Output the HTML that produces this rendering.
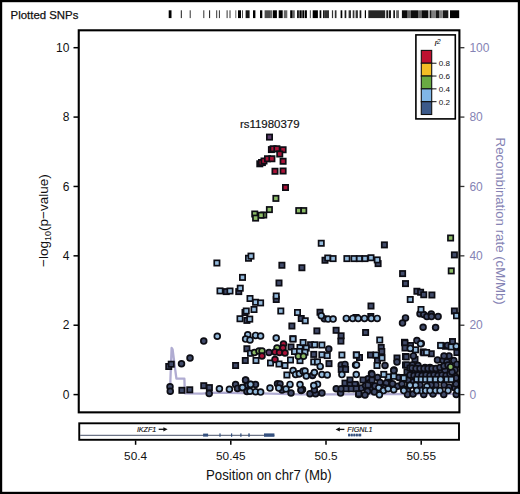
<!DOCTYPE html>
<html><head><meta charset="utf-8"><style>
html,body{margin:0;padding:0;background:#fff;}
body{width:520px;height:494px;overflow:hidden;font-family:"Liberation Sans", sans-serif;}
svg{display:block;}
</style></head><body>
<svg width="520" height="494" viewBox="0 0 520 494" font-family='"Liberation Sans", sans-serif'><rect x="1" y="1" width="518" height="492" fill="none" stroke="#000" stroke-width="2.4"/>
<text x="10.6" y="18.7" font-size="11.4" fill="#111" stroke="#111" stroke-width="0.25">Plotted SNPs</text>
<rect x="168.7" y="10.3" width="2.80" height="7.8" fill="#000" fill-opacity="1.0"/>
<rect x="180.8" y="10.3" width="1.00" height="7.8" fill="#000" fill-opacity="0.9"/>
<rect x="189.7" y="10.3" width="1.00" height="7.8" fill="#000" fill-opacity="0.8"/>
<rect x="203.3" y="10.3" width="1.00" height="7.8" fill="#000" fill-opacity="0.8"/>
<rect x="209.1" y="10.3" width="1.00" height="7.8" fill="#000" fill-opacity="0.9"/>
<rect x="216.2" y="10.3" width="1.00" height="7.8" fill="#000" fill-opacity="0.8"/>
<rect x="218.9" y="10.3" width="1.00" height="7.8" fill="#000" fill-opacity="0.8"/>
<rect x="226.6" y="10.3" width="1.00" height="7.8" fill="#000" fill-opacity="0.8"/>
<rect x="229.5" y="10.3" width="1.00" height="7.8" fill="#000" fill-opacity="0.8"/>
<rect x="235.3" y="10.3" width="1.00" height="7.8" fill="#000" fill-opacity="0.6"/>
<rect x="238" y="10.3" width="3.00" height="7.8" fill="#000" fill-opacity="1.0"/>
<rect x="242.2" y="10.3" width="0.80" height="7.8" fill="#000" fill-opacity="0.9"/>
<rect x="245.6" y="10.3" width="4.00" height="7.8" fill="#000" fill-opacity="0.9"/>
<rect x="253" y="10.3" width="2.40" height="7.8" fill="#000" fill-opacity="1.0"/>
<rect x="260" y="10.3" width="2.30" height="7.8" fill="#000" fill-opacity="1.0"/>
<rect x="264.6" y="10.3" width="5.40" height="7.8" fill="#000" fill-opacity="0.7"/>
<rect x="270" y="10.3" width="2.30" height="7.8" fill="#000" fill-opacity="0.6"/>
<rect x="272.9" y="10.3" width="4.00" height="7.8" fill="#000" fill-opacity="1.0"/>
<rect x="278.7" y="10.3" width="4.00" height="7.8" fill="#000" fill-opacity="1.0"/>
<rect x="283.8" y="10.3" width="3.50" height="7.8" fill="#000" fill-opacity="0.6"/>
<rect x="290.2" y="10.3" width="2.30" height="7.8" fill="#000" fill-opacity="1.0"/>
<rect x="292.5" y="10.3" width="2.30" height="7.8" fill="#000" fill-opacity="0.6"/>
<rect x="297.1" y="10.3" width="1.70" height="7.8" fill="#000" fill-opacity="1.0"/>
<rect x="299.4" y="10.3" width="2.30" height="7.8" fill="#000" fill-opacity="1.0"/>
<rect x="302.3" y="10.3" width="1.70" height="7.8" fill="#000" fill-opacity="1.0"/>
<rect x="304.6" y="10.3" width="2.30" height="7.8" fill="#000" fill-opacity="1.0"/>
<rect x="309.8" y="10.3" width="1.20" height="7.8" fill="#000" fill-opacity="0.6"/>
<rect x="312.7" y="10.3" width="5.20" height="7.8" fill="#000" fill-opacity="1.0"/>
<rect x="319.6" y="10.3" width="1.70" height="7.8" fill="#000" fill-opacity="1.0"/>
<rect x="323" y="10.3" width="1.80" height="7.8" fill="#000" fill-opacity="0.9"/>
<rect x="325" y="10.3" width="4.00" height="7.8" fill="#000" fill-opacity="0.8"/>
<rect x="331.9" y="10.3" width="1.20" height="7.8" fill="#000" fill-opacity="0.8"/>
<rect x="334.8" y="10.3" width="1.70" height="7.8" fill="#000" fill-opacity="0.8"/>
<rect x="340.6" y="10.3" width="1.70" height="7.8" fill="#000" fill-opacity="1.0"/>
<rect x="344.6" y="10.3" width="1.70" height="7.8" fill="#000" fill-opacity="0.9"/>
<rect x="348.6" y="10.3" width="2.40" height="7.8" fill="#000" fill-opacity="0.8"/>
<rect x="352.7" y="10.3" width="1.70" height="7.8" fill="#000" fill-opacity="0.8"/>
<rect x="355.6" y="10.3" width="2.30" height="7.8" fill="#000" fill-opacity="0.8"/>
<rect x="359.6" y="10.3" width="1.70" height="7.8" fill="#000" fill-opacity="0.9"/>
<rect x="364.8" y="10.3" width="1.20" height="7.8" fill="#000" fill-opacity="1.0"/>
<rect x="368.3" y="10.3" width="16.90" height="7.8" fill="#000" fill-opacity="0.85"/>
<rect x="386.3" y="10.3" width="1.70" height="7.8" fill="#000" fill-opacity="0.9"/>
<rect x="388.7" y="10.3" width="2.30" height="7.8" fill="#000" fill-opacity="0.9"/>
<rect x="393.3" y="10.3" width="1.70" height="7.8" fill="#000" fill-opacity="0.9"/>
<rect x="396.1" y="10.3" width="2.90" height="7.8" fill="#000" fill-opacity="0.6"/>
<rect x="401.9" y="10.3" width="5.60" height="7.8" fill="#000" fill-opacity="0.95"/>
<rect x="407.5" y="10.3" width="3.50" height="7.8" fill="#000" fill-opacity="0.6"/>
<rect x="411" y="10.3" width="7.00" height="7.8" fill="#000" fill-opacity="0.95"/>
<rect x="418" y="10.3" width="3.50" height="7.8" fill="#000" fill-opacity="0.6"/>
<rect x="421.5" y="10.3" width="6.90" height="7.8" fill="#000" fill-opacity="0.95"/>
<rect x="429.6" y="10.3" width="1.90" height="7.8" fill="#000" fill-opacity="0.9"/>
<rect x="431.5" y="10.3" width="4.50" height="7.8" fill="#000" fill-opacity="0.5"/>
<rect x="436" y="10.3" width="3.00" height="7.8" fill="#000" fill-opacity="0.9"/>
<rect x="439" y="10.3" width="3.00" height="7.8" fill="#000" fill-opacity="0.5"/>
<rect x="442.5" y="10.3" width="5.80" height="7.8" fill="#000" fill-opacity="0.9"/>
<rect x="450" y="10.3" width="9.20" height="7.8" fill="#000" fill-opacity="1.0"/>
<polyline points="170.2,394.2 170.4,380 171.6,348.0 172.6,349.5 176.4,378.7 184.4,378.7 184.8,393.3 202,393.6 215,392.6 240,393 260,393.4 300,394.4 340,394.4 380,394.0 420,394.2 459,393.8" fill="none" stroke="#b0acd2" stroke-width="2.3" stroke-linejoin="round"/>
<defs><clipPath id="pc"><rect x="79" y="30.5" width="380" height="381.5"/></clipPath></defs><g clip-path="url(#pc)">
<rect x="279.25" y="262.60" width="5.3" height="5.3" fill="#414b6a" stroke="#0d0d14" stroke-width="1.7"/>
<rect x="276.35" y="280.35" width="5.3" height="5.3" fill="#414b6a" stroke="#0d0d14" stroke-width="1.7"/>
<rect x="322.35" y="257.60" width="5.3" height="5.3" fill="#414b6a" stroke="#0d0d14" stroke-width="1.7"/>
<rect x="299.25" y="265.10" width="5.3" height="5.3" fill="#414b6a" stroke="#0d0d14" stroke-width="1.7"/>
<rect x="381.75" y="242.25" width="5.3" height="5.3" fill="#414b6a" stroke="#0d0d14" stroke-width="1.7"/>
<rect x="375.45" y="260.95" width="5.3" height="5.3" fill="#414b6a" stroke="#0d0d14" stroke-width="1.7"/>
<rect x="399.95" y="270.95" width="5.3" height="5.3" fill="#414b6a" stroke="#0d0d14" stroke-width="1.7"/>
<rect x="402.85" y="280.95" width="5.3" height="5.3" fill="#414b6a" stroke="#0d0d14" stroke-width="1.7"/>
<rect x="451.75" y="252.25" width="5.3" height="5.3" fill="#414b6a" stroke="#0d0d14" stroke-width="1.7"/>
<rect x="223.60" y="288.95" width="5.3" height="5.3" fill="#414b6a" stroke="#0d0d14" stroke-width="1.7"/>
<rect x="236.10" y="288.95" width="5.3" height="5.3" fill="#414b6a" stroke="#0d0d14" stroke-width="1.7"/>
<rect x="273.60" y="296.85" width="5.3" height="5.3" fill="#414b6a" stroke="#0d0d14" stroke-width="1.7"/>
<rect x="242.35" y="309.85" width="5.3" height="5.3" fill="#414b6a" stroke="#0d0d14" stroke-width="1.7"/>
<rect x="244.25" y="317.75" width="5.3" height="5.3" fill="#414b6a" stroke="#0d0d14" stroke-width="1.7"/>
<circle cx="203.75" cy="341.10" r="2.9" fill="#414b6a" stroke="#0d0d14" stroke-width="1.7"/>
<rect x="298.60" y="315.85" width="5.3" height="5.3" fill="#414b6a" stroke="#0d0d14" stroke-width="1.7"/>
<rect x="317.35" y="309.60" width="5.3" height="5.3" fill="#414b6a" stroke="#0d0d14" stroke-width="1.7"/>
<rect x="289.25" y="323.35" width="5.3" height="5.3" fill="#414b6a" stroke="#0d0d14" stroke-width="1.7"/>
<rect x="314.25" y="328.25" width="5.3" height="5.3" fill="#414b6a" stroke="#0d0d14" stroke-width="1.7"/>
<rect x="333.45" y="327.65" width="5.3" height="5.3" fill="#414b6a" stroke="#0d0d14" stroke-width="1.7"/>
<rect x="338.45" y="333.15" width="5.3" height="5.3" fill="#414b6a" stroke="#0d0d14" stroke-width="1.7"/>
<rect x="338.25" y="338.45" width="5.3" height="5.3" fill="#414b6a" stroke="#0d0d14" stroke-width="1.7"/>
<circle cx="324.40" cy="318.75" r="2.9" fill="#414b6a" stroke="#0d0d14" stroke-width="1.7"/>
<rect x="368.35" y="303.35" width="5.3" height="5.3" fill="#414b6a" stroke="#0d0d14" stroke-width="1.7"/>
<rect x="353.35" y="314.85" width="5.3" height="5.3" fill="#414b6a" stroke="#0d0d14" stroke-width="1.7"/>
<rect x="368.15" y="313.85" width="5.3" height="5.3" fill="#414b6a" stroke="#0d0d14" stroke-width="1.7"/>
<rect x="362.95" y="329.85" width="5.3" height="5.3" fill="#414b6a" stroke="#0d0d14" stroke-width="1.7"/>
<rect x="401.85" y="339.65" width="5.3" height="5.3" fill="#414b6a" stroke="#0d0d14" stroke-width="1.7"/>
<circle cx="405.50" cy="317.90" r="2.9" fill="#414b6a" stroke="#0d0d14" stroke-width="1.7"/>
<circle cx="402.50" cy="323.10" r="2.9" fill="#414b6a" stroke="#0d0d14" stroke-width="1.7"/>
<rect x="414.25" y="288.60" width="5.3" height="5.3" fill="#414b6a" stroke="#0d0d14" stroke-width="1.7"/>
<rect x="417.95" y="289.60" width="5.3" height="5.3" fill="#414b6a" stroke="#0d0d14" stroke-width="1.7"/>
<rect x="421.10" y="292.10" width="5.3" height="5.3" fill="#414b6a" stroke="#0d0d14" stroke-width="1.7"/>
<rect x="429.25" y="292.35" width="5.3" height="5.3" fill="#414b6a" stroke="#0d0d14" stroke-width="1.7"/>
<rect x="451.75" y="308.35" width="5.3" height="5.3" fill="#414b6a" stroke="#0d0d14" stroke-width="1.7"/>
<circle cx="420.00" cy="313.75" r="2.9" fill="#414b6a" stroke="#0d0d14" stroke-width="1.7"/>
<circle cx="423.75" cy="314.50" r="2.9" fill="#414b6a" stroke="#0d0d14" stroke-width="1.7"/>
<circle cx="426.90" cy="316.60" r="2.9" fill="#414b6a" stroke="#0d0d14" stroke-width="1.7"/>
<circle cx="431.25" cy="314.10" r="2.9" fill="#414b6a" stroke="#0d0d14" stroke-width="1.7"/>
<circle cx="431.50" cy="316.60" r="2.9" fill="#414b6a" stroke="#0d0d14" stroke-width="1.7"/>
<circle cx="438.10" cy="316.60" r="2.9" fill="#414b6a" stroke="#0d0d14" stroke-width="1.7"/>
<circle cx="423.10" cy="327.25" r="2.9" fill="#414b6a" stroke="#0d0d14" stroke-width="1.7"/>
<circle cx="435.60" cy="327.50" r="2.9" fill="#414b6a" stroke="#0d0d14" stroke-width="1.7"/>
<circle cx="416.90" cy="340.60" r="2.9" fill="#414b6a" stroke="#0d0d14" stroke-width="1.7"/>
<circle cx="190.00" cy="358.10" r="2.9" fill="#414b6a" stroke="#0d0d14" stroke-width="1.7"/>
<circle cx="181.50" cy="363.75" r="2.9" fill="#414b6a" stroke="#0d0d14" stroke-width="1.7"/>
<circle cx="170.00" cy="386.70" r="2.9" fill="#414b6a" stroke="#0d0d14" stroke-width="1.7"/>
<circle cx="170.25" cy="391.25" r="2.9" fill="#414b6a" stroke="#0d0d14" stroke-width="1.7"/>
<circle cx="209.20" cy="393.40" r="2.9" fill="#414b6a" stroke="#0d0d14" stroke-width="1.7"/>
<rect x="166.10" y="363.85" width="5.3" height="5.3" fill="#414b6a" stroke="#0d0d14" stroke-width="1.7"/>
<rect x="168.60" y="361.55" width="5.3" height="5.3" fill="#414b6a" stroke="#0d0d14" stroke-width="1.7"/>
<rect x="179.25" y="387.65" width="5.3" height="5.3" fill="#414b6a" stroke="#0d0d14" stroke-width="1.7"/>
<rect x="187.10" y="387.15" width="5.3" height="5.3" fill="#414b6a" stroke="#0d0d14" stroke-width="1.7"/>
<rect x="201.10" y="383.05" width="5.3" height="5.3" fill="#414b6a" stroke="#0d0d14" stroke-width="1.7"/>
<rect x="206.75" y="384.95" width="5.3" height="5.3" fill="#414b6a" stroke="#0d0d14" stroke-width="1.7"/>
<rect x="244.25" y="346.10" width="5.3" height="5.3" fill="#414b6a" stroke="#0d0d14" stroke-width="1.7"/>
<rect x="242.65" y="357.85" width="5.3" height="5.3" fill="#414b6a" stroke="#0d0d14" stroke-width="1.7"/>
<rect x="232.95" y="362.85" width="5.3" height="5.3" fill="#414b6a" stroke="#0d0d14" stroke-width="1.7"/>
<circle cx="235.60" cy="384.60" r="2.9" fill="#414b6a" stroke="#0d0d14" stroke-width="1.7"/>
<circle cx="237.50" cy="388.40" r="2.9" fill="#414b6a" stroke="#0d0d14" stroke-width="1.7"/>
<circle cx="245.60" cy="380.25" r="2.9" fill="#414b6a" stroke="#0d0d14" stroke-width="1.7"/>
<circle cx="247.50" cy="385.25" r="2.9" fill="#414b6a" stroke="#0d0d14" stroke-width="1.7"/>
<circle cx="255.50" cy="384.50" r="2.9" fill="#414b6a" stroke="#0d0d14" stroke-width="1.7"/>
<circle cx="246.90" cy="391.50" r="2.9" fill="#414b6a" stroke="#0d0d14" stroke-width="1.7"/>
<rect x="288.35" y="344.35" width="5.3" height="5.3" fill="#414b6a" stroke="#0d0d14" stroke-width="1.7"/>
<rect x="307.95" y="342.10" width="5.3" height="5.3" fill="#414b6a" stroke="#0d0d14" stroke-width="1.7"/>
<rect x="311.10" y="351.75" width="5.3" height="5.3" fill="#414b6a" stroke="#0d0d14" stroke-width="1.7"/>
<rect x="326.35" y="360.95" width="5.3" height="5.3" fill="#414b6a" stroke="#0d0d14" stroke-width="1.7"/>
<circle cx="328.75" cy="349.00" r="2.9" fill="#414b6a" stroke="#0d0d14" stroke-width="1.7"/>
<circle cx="277.50" cy="383.75" r="2.9" fill="#414b6a" stroke="#0d0d14" stroke-width="1.7"/>
<circle cx="302.50" cy="389.40" r="2.9" fill="#414b6a" stroke="#0d0d14" stroke-width="1.7"/>
<circle cx="298.75" cy="373.75" r="2.9" fill="#414b6a" stroke="#0d0d14" stroke-width="1.7"/>
<circle cx="312.50" cy="375.40" r="2.9" fill="#414b6a" stroke="#0d0d14" stroke-width="1.7"/>
<circle cx="301.25" cy="390.60" r="2.9" fill="#414b6a" stroke="#0d0d14" stroke-width="1.7"/>
<circle cx="310.00" cy="393.75" r="2.9" fill="#414b6a" stroke="#0d0d14" stroke-width="1.7"/>
<circle cx="315.60" cy="393.75" r="2.9" fill="#414b6a" stroke="#0d0d14" stroke-width="1.7"/>
<circle cx="321.90" cy="393.10" r="2.9" fill="#414b6a" stroke="#0d0d14" stroke-width="1.7"/>
<circle cx="314.40" cy="390.00" r="2.9" fill="#414b6a" stroke="#0d0d14" stroke-width="1.7"/>
<circle cx="245.60" cy="380.00" r="2.9" fill="#414b6a" stroke="#0d0d14" stroke-width="1.7"/>
<circle cx="336.25" cy="388.75" r="2.9" fill="#414b6a" stroke="#0d0d14" stroke-width="1.7"/>
<circle cx="340.60" cy="393.10" r="2.9" fill="#414b6a" stroke="#0d0d14" stroke-width="1.7"/>
<circle cx="341.25" cy="388.75" r="2.9" fill="#414b6a" stroke="#0d0d14" stroke-width="1.7"/>
<circle cx="341.25" cy="365.00" r="2.9" fill="#414b6a" stroke="#0d0d14" stroke-width="1.7"/>
<circle cx="345.00" cy="364.40" r="2.9" fill="#414b6a" stroke="#0d0d14" stroke-width="1.7"/>
<circle cx="343.75" cy="368.75" r="2.9" fill="#414b6a" stroke="#0d0d14" stroke-width="1.7"/>
<circle cx="358.75" cy="394.40" r="2.9" fill="#414b6a" stroke="#0d0d14" stroke-width="1.7"/>
<circle cx="361.25" cy="388.10" r="2.9" fill="#414b6a" stroke="#0d0d14" stroke-width="1.7"/>
<circle cx="356.00" cy="385.00" r="2.9" fill="#414b6a" stroke="#0d0d14" stroke-width="1.7"/>
<rect x="338.60" y="366.75" width="5.3" height="5.3" fill="#414b6a" stroke="#0d0d14" stroke-width="1.7"/>
<rect x="342.95" y="366.75" width="5.3" height="5.3" fill="#414b6a" stroke="#0d0d14" stroke-width="1.7"/>
<rect x="342.35" y="380.45" width="5.3" height="5.3" fill="#414b6a" stroke="#0d0d14" stroke-width="1.7"/>
<rect x="347.35" y="377.35" width="5.3" height="5.3" fill="#414b6a" stroke="#0d0d14" stroke-width="1.7"/>
<rect x="347.35" y="382.35" width="5.3" height="5.3" fill="#414b6a" stroke="#0d0d14" stroke-width="1.7"/>
<rect x="352.35" y="381.75" width="5.3" height="5.3" fill="#414b6a" stroke="#0d0d14" stroke-width="1.7"/>
<rect x="343.60" y="386.10" width="5.3" height="5.3" fill="#414b6a" stroke="#0d0d14" stroke-width="1.7"/>
<rect x="348.60" y="386.10" width="5.3" height="5.3" fill="#414b6a" stroke="#0d0d14" stroke-width="1.7"/>
<rect x="353.60" y="386.10" width="5.3" height="5.3" fill="#414b6a" stroke="#0d0d14" stroke-width="1.7"/>
<rect x="356.10" y="391.10" width="5.3" height="5.3" fill="#414b6a" stroke="#0d0d14" stroke-width="1.7"/>
<rect x="378.55" y="344.85" width="5.3" height="5.3" fill="#414b6a" stroke="#0d0d14" stroke-width="1.7"/>
<rect x="379.15" y="348.85" width="5.3" height="5.3" fill="#414b6a" stroke="#0d0d14" stroke-width="1.7"/>
<rect x="367.85" y="352.35" width="5.3" height="5.3" fill="#414b6a" stroke="#0d0d14" stroke-width="1.7"/>
<rect x="374.85" y="357.85" width="5.3" height="5.3" fill="#414b6a" stroke="#0d0d14" stroke-width="1.7"/>
<rect x="356.85" y="354.85" width="5.3" height="5.3" fill="#414b6a" stroke="#0d0d14" stroke-width="1.7"/>
<rect x="394.35" y="355.35" width="5.3" height="5.3" fill="#414b6a" stroke="#0d0d14" stroke-width="1.7"/>
<rect x="402.35" y="340.35" width="5.3" height="5.3" fill="#414b6a" stroke="#0d0d14" stroke-width="1.7"/>
<rect x="402.35" y="345.35" width="5.3" height="5.3" fill="#414b6a" stroke="#0d0d14" stroke-width="1.7"/>
<rect x="402.85" y="353.85" width="5.3" height="5.3" fill="#414b6a" stroke="#0d0d14" stroke-width="1.7"/>
<rect x="402.85" y="362.35" width="5.3" height="5.3" fill="#414b6a" stroke="#0d0d14" stroke-width="1.7"/>
<circle cx="385.00" cy="365.50" r="2.9" fill="#414b6a" stroke="#0d0d14" stroke-width="1.7"/>
<circle cx="397.00" cy="362.00" r="2.9" fill="#414b6a" stroke="#0d0d14" stroke-width="1.7"/>
<circle cx="394.00" cy="370.00" r="2.9" fill="#414b6a" stroke="#0d0d14" stroke-width="1.7"/>
<circle cx="371.50" cy="373.50" r="2.9" fill="#414b6a" stroke="#0d0d14" stroke-width="1.7"/>
<circle cx="365.60" cy="385.60" r="2.9" fill="#414b6a" stroke="#0d0d14" stroke-width="1.7"/>
<circle cx="370.00" cy="388.75" r="2.9" fill="#414b6a" stroke="#0d0d14" stroke-width="1.7"/>
<circle cx="374.40" cy="391.90" r="2.9" fill="#414b6a" stroke="#0d0d14" stroke-width="1.7"/>
<circle cx="367.50" cy="391.25" r="2.9" fill="#414b6a" stroke="#0d0d14" stroke-width="1.7"/>
<circle cx="371.90" cy="374.40" r="2.9" fill="#414b6a" stroke="#0d0d14" stroke-width="1.7"/>
<circle cx="368.10" cy="378.75" r="2.9" fill="#414b6a" stroke="#0d0d14" stroke-width="1.7"/>
<circle cx="370.00" cy="382.50" r="2.9" fill="#414b6a" stroke="#0d0d14" stroke-width="1.7"/>
<circle cx="393.75" cy="370.60" r="2.9" fill="#414b6a" stroke="#0d0d14" stroke-width="1.7"/>
<circle cx="398.75" cy="377.50" r="2.9" fill="#414b6a" stroke="#0d0d14" stroke-width="1.7"/>
<circle cx="397.50" cy="386.25" r="2.9" fill="#414b6a" stroke="#0d0d14" stroke-width="1.7"/>
<circle cx="407.50" cy="390.00" r="2.9" fill="#414b6a" stroke="#0d0d14" stroke-width="1.7"/>
<circle cx="377.50" cy="377.50" r="2.9" fill="#414b6a" stroke="#0d0d14" stroke-width="1.7"/>
<circle cx="380.00" cy="382.50" r="2.9" fill="#414b6a" stroke="#0d0d14" stroke-width="1.7"/>
<circle cx="386.25" cy="383.10" r="2.9" fill="#414b6a" stroke="#0d0d14" stroke-width="1.7"/>
<circle cx="392.50" cy="383.75" r="2.9" fill="#414b6a" stroke="#0d0d14" stroke-width="1.7"/>
<circle cx="413.75" cy="371.25" r="2.9" fill="#414b6a" stroke="#0d0d14" stroke-width="1.7"/>
<circle cx="375.00" cy="386.00" r="2.9" fill="#414b6a" stroke="#0d0d14" stroke-width="1.7"/>
<circle cx="385.00" cy="388.00" r="2.9" fill="#414b6a" stroke="#0d0d14" stroke-width="1.7"/>
<circle cx="402.00" cy="384.00" r="2.9" fill="#414b6a" stroke="#0d0d14" stroke-width="1.7"/>
<circle cx="389.00" cy="378.00" r="2.9" fill="#414b6a" stroke="#0d0d14" stroke-width="1.7"/>
<circle cx="365.00" cy="395.00" r="2.9" fill="#414b6a" stroke="#0d0d14" stroke-width="1.7"/>
<rect x="403.60" y="354.25" width="5.3" height="5.3" fill="#414b6a" stroke="#0d0d14" stroke-width="1.7"/>
<rect x="412.35" y="356.75" width="5.3" height="5.3" fill="#414b6a" stroke="#0d0d14" stroke-width="1.7"/>
<rect x="404.25" y="362.35" width="5.3" height="5.3" fill="#414b6a" stroke="#0d0d14" stroke-width="1.7"/>
<rect x="400.45" y="374.85" width="5.3" height="5.3" fill="#414b6a" stroke="#0d0d14" stroke-width="1.7"/>
<rect x="420.45" y="349.25" width="5.3" height="5.3" fill="#414b6a" stroke="#0d0d14" stroke-width="1.7"/>
<rect x="428.60" y="351.10" width="5.3" height="5.3" fill="#414b6a" stroke="#0d0d14" stroke-width="1.7"/>
<rect x="442.95" y="343.60" width="5.3" height="5.3" fill="#414b6a" stroke="#0d0d14" stroke-width="1.7"/>
<rect x="449.85" y="339.25" width="5.3" height="5.3" fill="#414b6a" stroke="#0d0d14" stroke-width="1.7"/>
<rect x="454.25" y="349.85" width="5.3" height="5.3" fill="#414b6a" stroke="#0d0d14" stroke-width="1.7"/>
<rect x="404.35" y="369.35" width="5.3" height="5.3" fill="#414b6a" stroke="#0d0d14" stroke-width="1.7"/>
<rect x="407.35" y="365.35" width="5.3" height="5.3" fill="#414b6a" stroke="#0d0d14" stroke-width="1.7"/>
<rect x="407.85" y="342.85" width="5.3" height="5.3" fill="#414b6a" stroke="#0d0d14" stroke-width="1.7"/>
<rect x="421.15" y="350.15" width="5.3" height="5.3" fill="#414b6a" stroke="#0d0d14" stroke-width="1.7"/>
<circle cx="413.40" cy="355.90" r="2.9" fill="#414b6a" stroke="#0d0d14" stroke-width="1.7"/>
<rect x="449.85" y="338.95" width="5.3" height="5.3" fill="#414b6a" stroke="#0d0d14" stroke-width="1.7"/>
<circle cx="437.50" cy="360.00" r="2.9" fill="#414b6a" stroke="#0d0d14" stroke-width="1.7"/>
<circle cx="443.10" cy="360.60" r="2.9" fill="#414b6a" stroke="#0d0d14" stroke-width="1.7"/>
<circle cx="446.90" cy="361.90" r="2.9" fill="#414b6a" stroke="#0d0d14" stroke-width="1.7"/>
<circle cx="453.75" cy="360.60" r="2.9" fill="#414b6a" stroke="#0d0d14" stroke-width="1.7"/>
<circle cx="456.90" cy="364.40" r="2.9" fill="#414b6a" stroke="#0d0d14" stroke-width="1.7"/>
<circle cx="447.50" cy="345.40" r="2.9" fill="#414b6a" stroke="#0d0d14" stroke-width="1.7"/>
<circle cx="415.00" cy="370.60" r="2.9" fill="#414b6a" stroke="#0d0d14" stroke-width="1.7"/>
<circle cx="419.40" cy="370.60" r="2.9" fill="#414b6a" stroke="#0d0d14" stroke-width="1.7"/>
<circle cx="424.40" cy="370.60" r="2.9" fill="#414b6a" stroke="#0d0d14" stroke-width="1.7"/>
<circle cx="428.75" cy="370.60" r="2.9" fill="#414b6a" stroke="#0d0d14" stroke-width="1.7"/>
<circle cx="433.10" cy="370.60" r="2.9" fill="#414b6a" stroke="#0d0d14" stroke-width="1.7"/>
<circle cx="437.50" cy="370.60" r="2.9" fill="#414b6a" stroke="#0d0d14" stroke-width="1.7"/>
<circle cx="441.25" cy="370.60" r="2.9" fill="#414b6a" stroke="#0d0d14" stroke-width="1.7"/>
<circle cx="445.00" cy="370.60" r="2.9" fill="#414b6a" stroke="#0d0d14" stroke-width="1.7"/>
<circle cx="412.50" cy="365.00" r="2.9" fill="#414b6a" stroke="#0d0d14" stroke-width="1.7"/>
<circle cx="418.00" cy="365.50" r="2.9" fill="#414b6a" stroke="#0d0d14" stroke-width="1.7"/>
<circle cx="430.00" cy="367.50" r="2.9" fill="#414b6a" stroke="#0d0d14" stroke-width="1.7"/>
<circle cx="425.00" cy="367.50" r="2.9" fill="#414b6a" stroke="#0d0d14" stroke-width="1.7"/>
<circle cx="407.50" cy="394.40" r="2.9" fill="#414b6a" stroke="#0d0d14" stroke-width="1.7"/>
<circle cx="423.75" cy="394.40" r="2.9" fill="#414b6a" stroke="#0d0d14" stroke-width="1.7"/>
<circle cx="443.75" cy="394.40" r="2.9" fill="#414b6a" stroke="#0d0d14" stroke-width="1.7"/>
<circle cx="456.25" cy="394.40" r="2.9" fill="#414b6a" stroke="#0d0d14" stroke-width="1.7"/>
<circle cx="455.00" cy="370.00" r="2.9" fill="#414b6a" stroke="#0d0d14" stroke-width="1.7"/>
<circle cx="455.00" cy="376.00" r="2.9" fill="#414b6a" stroke="#0d0d14" stroke-width="1.7"/>
<circle cx="455.00" cy="382.00" r="2.9" fill="#414b6a" stroke="#0d0d14" stroke-width="1.7"/>
<circle cx="455.00" cy="388.00" r="2.9" fill="#414b6a" stroke="#0d0d14" stroke-width="1.7"/>
<circle cx="449.00" cy="387.00" r="2.9" fill="#414b6a" stroke="#0d0d14" stroke-width="1.7"/>
<circle cx="444.00" cy="385.00" r="2.9" fill="#414b6a" stroke="#0d0d14" stroke-width="1.7"/>
<circle cx="436.00" cy="385.00" r="2.9" fill="#414b6a" stroke="#0d0d14" stroke-width="1.7"/>
<circle cx="431.00" cy="385.00" r="2.9" fill="#414b6a" stroke="#0d0d14" stroke-width="1.7"/>
<circle cx="420.00" cy="385.00" r="2.9" fill="#414b6a" stroke="#0d0d14" stroke-width="1.7"/>
<circle cx="412.00" cy="382.00" r="2.9" fill="#414b6a" stroke="#0d0d14" stroke-width="1.7"/>
<circle cx="408.00" cy="380.00" r="2.9" fill="#414b6a" stroke="#0d0d14" stroke-width="1.7"/>
<circle cx="433.00" cy="394.00" r="2.9" fill="#414b6a" stroke="#0d0d14" stroke-width="1.7"/>
<circle cx="413.00" cy="394.00" r="2.9" fill="#414b6a" stroke="#0d0d14" stroke-width="1.7"/>
<circle cx="410.00" cy="375.00" r="2.9" fill="#414b6a" stroke="#0d0d14" stroke-width="1.7"/>
<circle cx="414.00" cy="375.50" r="2.9" fill="#414b6a" stroke="#0d0d14" stroke-width="1.7"/>
<circle cx="418.00" cy="375.00" r="2.9" fill="#414b6a" stroke="#0d0d14" stroke-width="1.7"/>
<circle cx="422.00" cy="375.50" r="2.9" fill="#414b6a" stroke="#0d0d14" stroke-width="1.7"/>
<circle cx="426.00" cy="375.00" r="2.9" fill="#414b6a" stroke="#0d0d14" stroke-width="1.7"/>
<circle cx="430.00" cy="375.50" r="2.9" fill="#414b6a" stroke="#0d0d14" stroke-width="1.7"/>
<circle cx="434.00" cy="375.00" r="2.9" fill="#414b6a" stroke="#0d0d14" stroke-width="1.7"/>
<circle cx="438.00" cy="375.50" r="2.9" fill="#414b6a" stroke="#0d0d14" stroke-width="1.7"/>
<circle cx="442.00" cy="375.00" r="2.9" fill="#414b6a" stroke="#0d0d14" stroke-width="1.7"/>
<circle cx="446.00" cy="375.50" r="2.9" fill="#414b6a" stroke="#0d0d14" stroke-width="1.7"/>
<circle cx="450.00" cy="374.00" r="2.9" fill="#414b6a" stroke="#0d0d14" stroke-width="1.7"/>
<circle cx="412.00" cy="368.00" r="2.9" fill="#414b6a" stroke="#0d0d14" stroke-width="1.7"/>
<circle cx="416.00" cy="368.50" r="2.9" fill="#414b6a" stroke="#0d0d14" stroke-width="1.7"/>
<circle cx="420.00" cy="368.50" r="2.9" fill="#414b6a" stroke="#0d0d14" stroke-width="1.7"/>
<circle cx="424.00" cy="368.50" r="2.9" fill="#414b6a" stroke="#0d0d14" stroke-width="1.7"/>
<circle cx="428.00" cy="368.50" r="2.9" fill="#414b6a" stroke="#0d0d14" stroke-width="1.7"/>
<circle cx="432.00" cy="368.50" r="2.9" fill="#414b6a" stroke="#0d0d14" stroke-width="1.7"/>
<circle cx="436.00" cy="368.50" r="2.9" fill="#414b6a" stroke="#0d0d14" stroke-width="1.7"/>
<circle cx="440.00" cy="367.50" r="2.9" fill="#414b6a" stroke="#0d0d14" stroke-width="1.7"/>
<circle cx="444.00" cy="366.00" r="2.9" fill="#414b6a" stroke="#0d0d14" stroke-width="1.7"/>
<circle cx="448.00" cy="365.00" r="2.9" fill="#414b6a" stroke="#0d0d14" stroke-width="1.7"/>
<circle cx="452.00" cy="372.00" r="2.9" fill="#414b6a" stroke="#0d0d14" stroke-width="1.7"/>
<circle cx="456.00" cy="378.00" r="2.9" fill="#414b6a" stroke="#0d0d14" stroke-width="1.7"/>
<circle cx="456.00" cy="384.00" r="2.9" fill="#414b6a" stroke="#0d0d14" stroke-width="1.7"/>
<circle cx="449.00" cy="356.00" r="2.9" fill="#414b6a" stroke="#0d0d14" stroke-width="1.7"/>
<circle cx="444.00" cy="356.00" r="2.9" fill="#414b6a" stroke="#0d0d14" stroke-width="1.7"/>
<rect x="360.35" y="377.35" width="5.3" height="5.3" fill="#414b6a" stroke="#0d0d14" stroke-width="1.7"/>
<rect x="365.35" y="382.35" width="5.3" height="5.3" fill="#414b6a" stroke="#0d0d14" stroke-width="1.7"/>
<rect x="369.35" y="377.35" width="5.3" height="5.3" fill="#414b6a" stroke="#0d0d14" stroke-width="1.7"/>
<circle cx="282.00" cy="390.00" r="2.9" fill="#414b6a" stroke="#0d0d14" stroke-width="1.7"/>
<circle cx="291.00" cy="393.00" r="2.9" fill="#414b6a" stroke="#0d0d14" stroke-width="1.7"/>
<circle cx="301.00" cy="390.00" r="2.9" fill="#414b6a" stroke="#0d0d14" stroke-width="1.7"/>
<circle cx="280.00" cy="384.00" r="2.9" fill="#414b6a" stroke="#0d0d14" stroke-width="1.7"/>
<rect x="214.25" y="260.35" width="5.3" height="5.3" fill="#93badc" stroke="#0d0d14" stroke-width="1.7"/>
<rect x="245.85" y="255.60" width="5.3" height="5.3" fill="#93badc" stroke="#0d0d14" stroke-width="1.7"/>
<rect x="248.35" y="253.45" width="5.3" height="5.3" fill="#93badc" stroke="#0d0d14" stroke-width="1.7"/>
<rect x="239.85" y="274.75" width="5.3" height="5.3" fill="#93badc" stroke="#0d0d14" stroke-width="1.7"/>
<rect x="318.60" y="240.60" width="5.3" height="5.3" fill="#93badc" stroke="#0d0d14" stroke-width="1.7"/>
<rect x="325.10" y="255.35" width="5.3" height="5.3" fill="#93badc" stroke="#0d0d14" stroke-width="1.7"/>
<rect x="330.45" y="255.95" width="5.3" height="5.3" fill="#93badc" stroke="#0d0d14" stroke-width="1.7"/>
<rect x="344.25" y="255.95" width="5.3" height="5.3" fill="#93badc" stroke="#0d0d14" stroke-width="1.7"/>
<rect x="351.35" y="255.95" width="5.3" height="5.3" fill="#93badc" stroke="#0d0d14" stroke-width="1.7"/>
<rect x="356.75" y="255.95" width="5.3" height="5.3" fill="#93badc" stroke="#0d0d14" stroke-width="1.7"/>
<rect x="362.35" y="255.95" width="5.3" height="5.3" fill="#93badc" stroke="#0d0d14" stroke-width="1.7"/>
<rect x="368.35" y="255.10" width="5.3" height="5.3" fill="#93badc" stroke="#0d0d14" stroke-width="1.7"/>
<rect x="374.60" y="257.25" width="5.3" height="5.3" fill="#93badc" stroke="#0d0d14" stroke-width="1.7"/>
<rect x="217.35" y="288.25" width="5.3" height="5.3" fill="#93badc" stroke="#0d0d14" stroke-width="1.7"/>
<rect x="227.35" y="288.35" width="5.3" height="5.3" fill="#93badc" stroke="#0d0d14" stroke-width="1.7"/>
<rect x="237.60" y="285.55" width="5.3" height="5.3" fill="#93badc" stroke="#0d0d14" stroke-width="1.7"/>
<rect x="247.35" y="295.85" width="5.3" height="5.3" fill="#93badc" stroke="#0d0d14" stroke-width="1.7"/>
<rect x="252.95" y="299.60" width="5.3" height="5.3" fill="#93badc" stroke="#0d0d14" stroke-width="1.7"/>
<rect x="257.95" y="300.25" width="5.3" height="5.3" fill="#93badc" stroke="#0d0d14" stroke-width="1.7"/>
<rect x="273.60" y="293.35" width="5.3" height="5.3" fill="#93badc" stroke="#0d0d14" stroke-width="1.7"/>
<rect x="243.60" y="308.35" width="5.3" height="5.3" fill="#93badc" stroke="#0d0d14" stroke-width="1.7"/>
<rect x="251.35" y="306.85" width="5.3" height="5.3" fill="#93badc" stroke="#0d0d14" stroke-width="1.7"/>
<rect x="237.35" y="316.10" width="5.3" height="5.3" fill="#93badc" stroke="#0d0d14" stroke-width="1.7"/>
<rect x="247.10" y="316.45" width="5.3" height="5.3" fill="#93badc" stroke="#0d0d14" stroke-width="1.7"/>
<rect x="278.15" y="308.35" width="5.3" height="5.3" fill="#93badc" stroke="#0d0d14" stroke-width="1.7"/>
<circle cx="247.75" cy="334.75" r="2.9" fill="#93badc" stroke="#0d0d14" stroke-width="1.7"/>
<circle cx="245.60" cy="339.10" r="2.9" fill="#93badc" stroke="#0d0d14" stroke-width="1.7"/>
<circle cx="250.00" cy="340.00" r="2.9" fill="#93badc" stroke="#0d0d14" stroke-width="1.7"/>
<circle cx="255.60" cy="335.40" r="2.9" fill="#93badc" stroke="#0d0d14" stroke-width="1.7"/>
<circle cx="260.60" cy="336.00" r="2.9" fill="#93badc" stroke="#0d0d14" stroke-width="1.7"/>
<circle cx="276.20" cy="338.00" r="2.9" fill="#93badc" stroke="#0d0d14" stroke-width="1.7"/>
<circle cx="217.25" cy="336.25" r="2.9" fill="#93badc" stroke="#0d0d14" stroke-width="1.7"/>
<rect x="294.85" y="309.85" width="5.3" height="5.3" fill="#93badc" stroke="#0d0d14" stroke-width="1.7"/>
<rect x="302.60" y="318.10" width="5.3" height="5.3" fill="#93badc" stroke="#0d0d14" stroke-width="1.7"/>
<rect x="290.25" y="336.10" width="5.3" height="5.3" fill="#93badc" stroke="#0d0d14" stroke-width="1.7"/>
<circle cx="321.25" cy="315.75" r="2.9" fill="#93badc" stroke="#0d0d14" stroke-width="1.7"/>
<circle cx="328.10" cy="319.10" r="2.9" fill="#93badc" stroke="#0d0d14" stroke-width="1.7"/>
<circle cx="333.10" cy="319.10" r="2.9" fill="#93badc" stroke="#0d0d14" stroke-width="1.7"/>
<circle cx="346.30" cy="318.40" r="2.9" fill="#93badc" stroke="#0d0d14" stroke-width="1.7"/>
<circle cx="352.70" cy="318.40" r="2.9" fill="#93badc" stroke="#0d0d14" stroke-width="1.7"/>
<circle cx="358.20" cy="318.40" r="2.9" fill="#93badc" stroke="#0d0d14" stroke-width="1.7"/>
<circle cx="364.50" cy="318.40" r="2.9" fill="#93badc" stroke="#0d0d14" stroke-width="1.7"/>
<circle cx="371.30" cy="318.40" r="2.9" fill="#93badc" stroke="#0d0d14" stroke-width="1.7"/>
<circle cx="377.20" cy="318.40" r="2.9" fill="#93badc" stroke="#0d0d14" stroke-width="1.7"/>
<rect x="377.10" y="337.35" width="5.3" height="5.3" fill="#93badc" stroke="#0d0d14" stroke-width="1.7"/>
<rect x="407.60" y="296.85" width="5.3" height="5.3" fill="#93badc" stroke="#0d0d14" stroke-width="1.7"/>
<rect x="418.35" y="306.85" width="5.3" height="5.3" fill="#93badc" stroke="#0d0d14" stroke-width="1.7"/>
<rect x="453.85" y="313.10" width="5.3" height="5.3" fill="#93badc" stroke="#0d0d14" stroke-width="1.7"/>
<circle cx="421.25" cy="343.50" r="2.9" fill="#93badc" stroke="#0d0d14" stroke-width="1.7"/>
<rect x="247.85" y="350.65" width="5.3" height="5.3" fill="#93badc" stroke="#0d0d14" stroke-width="1.7"/>
<rect x="253.35" y="357.85" width="5.3" height="5.3" fill="#93badc" stroke="#0d0d14" stroke-width="1.7"/>
<circle cx="219.40" cy="388.75" r="2.9" fill="#93badc" stroke="#0d0d14" stroke-width="1.7"/>
<circle cx="229.40" cy="389.25" r="2.9" fill="#93badc" stroke="#0d0d14" stroke-width="1.7"/>
<circle cx="241.90" cy="387.75" r="2.9" fill="#93badc" stroke="#0d0d14" stroke-width="1.7"/>
<circle cx="250.60" cy="384.30" r="2.9" fill="#93badc" stroke="#0d0d14" stroke-width="1.7"/>
<circle cx="250.00" cy="391.25" r="2.9" fill="#93badc" stroke="#0d0d14" stroke-width="1.7"/>
<circle cx="255.60" cy="391.75" r="2.9" fill="#93badc" stroke="#0d0d14" stroke-width="1.7"/>
<circle cx="260.60" cy="392.10" r="2.9" fill="#93badc" stroke="#0d0d14" stroke-width="1.7"/>
<rect x="290.35" y="336.35" width="5.3" height="5.3" fill="#93badc" stroke="#0d0d14" stroke-width="1.7"/>
<rect x="291.85" y="348.85" width="5.3" height="5.3" fill="#93badc" stroke="#0d0d14" stroke-width="1.7"/>
<rect x="297.35" y="344.85" width="5.3" height="5.3" fill="#93badc" stroke="#0d0d14" stroke-width="1.7"/>
<rect x="296.85" y="348.85" width="5.3" height="5.3" fill="#93badc" stroke="#0d0d14" stroke-width="1.7"/>
<rect x="267.85" y="360.35" width="5.3" height="5.3" fill="#93badc" stroke="#0d0d14" stroke-width="1.7"/>
<rect x="276.35" y="361.35" width="5.3" height="5.3" fill="#93badc" stroke="#0d0d14" stroke-width="1.7"/>
<rect x="282.35" y="362.85" width="5.3" height="5.3" fill="#93badc" stroke="#0d0d14" stroke-width="1.7"/>
<rect x="287.85" y="357.35" width="5.3" height="5.3" fill="#93badc" stroke="#0d0d14" stroke-width="1.7"/>
<rect x="284.25" y="372.35" width="5.3" height="5.3" fill="#93badc" stroke="#0d0d14" stroke-width="1.7"/>
<rect x="297.35" y="357.95" width="5.3" height="5.3" fill="#93badc" stroke="#0d0d14" stroke-width="1.7"/>
<rect x="300.45" y="339.85" width="5.3" height="5.3" fill="#93badc" stroke="#0d0d14" stroke-width="1.7"/>
<rect x="312.10" y="342.10" width="5.3" height="5.3" fill="#93badc" stroke="#0d0d14" stroke-width="1.7"/>
<rect x="319.25" y="342.35" width="5.3" height="5.3" fill="#93badc" stroke="#0d0d14" stroke-width="1.7"/>
<rect x="303.60" y="345.45" width="5.3" height="5.3" fill="#93badc" stroke="#0d0d14" stroke-width="1.7"/>
<rect x="302.35" y="349.60" width="5.3" height="5.3" fill="#93badc" stroke="#0d0d14" stroke-width="1.7"/>
<rect x="319.25" y="352.10" width="5.3" height="5.3" fill="#93badc" stroke="#0d0d14" stroke-width="1.7"/>
<rect x="324.60" y="352.95" width="5.3" height="5.3" fill="#93badc" stroke="#0d0d14" stroke-width="1.7"/>
<rect x="339.25" y="352.35" width="5.3" height="5.3" fill="#93badc" stroke="#0d0d14" stroke-width="1.7"/>
<rect x="353.60" y="352.35" width="5.3" height="5.3" fill="#93badc" stroke="#0d0d14" stroke-width="1.7"/>
<rect x="311.10" y="359.25" width="5.3" height="5.3" fill="#93badc" stroke="#0d0d14" stroke-width="1.7"/>
<rect x="314.85" y="359.25" width="5.3" height="5.3" fill="#93badc" stroke="#0d0d14" stroke-width="1.7"/>
<circle cx="293.10" cy="370.60" r="2.9" fill="#93badc" stroke="#0d0d14" stroke-width="1.7"/>
<circle cx="295.60" cy="374.50" r="2.9" fill="#93badc" stroke="#0d0d14" stroke-width="1.7"/>
<circle cx="299.40" cy="373.75" r="2.9" fill="#93badc" stroke="#0d0d14" stroke-width="1.7"/>
<circle cx="303.10" cy="371.25" r="2.9" fill="#93badc" stroke="#0d0d14" stroke-width="1.7"/>
<circle cx="320.20" cy="366.40" r="2.9" fill="#93badc" stroke="#0d0d14" stroke-width="1.7"/>
<circle cx="305.00" cy="371.00" r="2.9" fill="#93badc" stroke="#0d0d14" stroke-width="1.7"/>
<circle cx="306.25" cy="376.00" r="2.9" fill="#93badc" stroke="#0d0d14" stroke-width="1.7"/>
<circle cx="314.40" cy="372.50" r="2.9" fill="#93badc" stroke="#0d0d14" stroke-width="1.7"/>
<circle cx="321.90" cy="374.60" r="2.9" fill="#93badc" stroke="#0d0d14" stroke-width="1.7"/>
<circle cx="327.25" cy="374.90" r="2.9" fill="#93badc" stroke="#0d0d14" stroke-width="1.7"/>
<circle cx="341.90" cy="374.60" r="2.9" fill="#93badc" stroke="#0d0d14" stroke-width="1.7"/>
<circle cx="356.25" cy="374.60" r="2.9" fill="#93badc" stroke="#0d0d14" stroke-width="1.7"/>
<circle cx="355.60" cy="365.10" r="2.9" fill="#93badc" stroke="#0d0d14" stroke-width="1.7"/>
<circle cx="270.00" cy="388.10" r="2.9" fill="#93badc" stroke="#0d0d14" stroke-width="1.7"/>
<circle cx="278.75" cy="388.10" r="2.9" fill="#93badc" stroke="#0d0d14" stroke-width="1.7"/>
<circle cx="290.00" cy="384.40" r="2.9" fill="#93badc" stroke="#0d0d14" stroke-width="1.7"/>
<circle cx="300.00" cy="384.60" r="2.9" fill="#93badc" stroke="#0d0d14" stroke-width="1.7"/>
<circle cx="317.50" cy="384.20" r="2.9" fill="#93badc" stroke="#0d0d14" stroke-width="1.7"/>
<circle cx="313.75" cy="385.60" r="2.9" fill="#93badc" stroke="#0d0d14" stroke-width="1.7"/>
<circle cx="250.60" cy="384.40" r="2.9" fill="#93badc" stroke="#0d0d14" stroke-width="1.7"/>
<circle cx="242.50" cy="387.50" r="2.9" fill="#93badc" stroke="#0d0d14" stroke-width="1.7"/>
<rect x="373.35" y="352.35" width="5.3" height="5.3" fill="#93badc" stroke="#0d0d14" stroke-width="1.7"/>
<rect x="379.35" y="355.35" width="5.3" height="5.3" fill="#93badc" stroke="#0d0d14" stroke-width="1.7"/>
<rect x="374.35" y="362.85" width="5.3" height="5.3" fill="#93badc" stroke="#0d0d14" stroke-width="1.7"/>
<rect x="353.85" y="352.35" width="5.3" height="5.3" fill="#93badc" stroke="#0d0d14" stroke-width="1.7"/>
<circle cx="356.50" cy="365.00" r="2.9" fill="#93badc" stroke="#0d0d14" stroke-width="1.7"/>
<rect x="391.10" y="373.60" width="5.3" height="5.3" fill="#93badc" stroke="#0d0d14" stroke-width="1.7"/>
<rect x="385.45" y="374.25" width="5.3" height="5.3" fill="#93badc" stroke="#0d0d14" stroke-width="1.7"/>
<rect x="381.10" y="371.75" width="5.3" height="5.3" fill="#93badc" stroke="#0d0d14" stroke-width="1.7"/>
<rect x="401.10" y="374.85" width="5.3" height="5.3" fill="#93badc" stroke="#0d0d14" stroke-width="1.7"/>
<circle cx="378.75" cy="387.75" r="2.9" fill="#93badc" stroke="#0d0d14" stroke-width="1.7"/>
<circle cx="383.50" cy="390.60" r="2.9" fill="#93badc" stroke="#0d0d14" stroke-width="1.7"/>
<circle cx="388.10" cy="388.75" r="2.9" fill="#93badc" stroke="#0d0d14" stroke-width="1.7"/>
<circle cx="393.75" cy="389.75" r="2.9" fill="#93badc" stroke="#0d0d14" stroke-width="1.7"/>
<circle cx="403.75" cy="389.00" r="2.9" fill="#93badc" stroke="#0d0d14" stroke-width="1.7"/>
<circle cx="379.40" cy="394.75" r="2.9" fill="#93badc" stroke="#0d0d14" stroke-width="1.7"/>
<rect x="412.85" y="347.15" width="5.3" height="5.3" fill="#93badc" stroke="#0d0d14" stroke-width="1.7"/>
<rect x="423.95" y="349.85" width="5.3" height="5.3" fill="#93badc" stroke="#0d0d14" stroke-width="1.7"/>
<rect x="438.60" y="342.95" width="5.3" height="5.3" fill="#93badc" stroke="#0d0d14" stroke-width="1.7"/>
<rect x="448.60" y="344.25" width="5.3" height="5.3" fill="#93badc" stroke="#0d0d14" stroke-width="1.7"/>
<rect x="437.95" y="342.75" width="5.3" height="5.3" fill="#93badc" stroke="#0d0d14" stroke-width="1.7"/>
<circle cx="410.30" cy="348.40" r="2.9" fill="#93badc" stroke="#0d0d14" stroke-width="1.7"/>
<circle cx="456.25" cy="346.25" r="2.9" fill="#93badc" stroke="#0d0d14" stroke-width="1.7"/>
<circle cx="420.60" cy="343.75" r="2.9" fill="#93badc" stroke="#0d0d14" stroke-width="1.7"/>
<rect x="414.25" y="376.75" width="5.3" height="5.3" fill="#93badc" stroke="#0d0d14" stroke-width="1.7"/>
<rect x="418.60" y="376.75" width="5.3" height="5.3" fill="#93badc" stroke="#0d0d14" stroke-width="1.7"/>
<rect x="422.95" y="376.75" width="5.3" height="5.3" fill="#93badc" stroke="#0d0d14" stroke-width="1.7"/>
<rect x="427.35" y="376.75" width="5.3" height="5.3" fill="#93badc" stroke="#0d0d14" stroke-width="1.7"/>
<rect x="432.95" y="376.75" width="5.3" height="5.3" fill="#93badc" stroke="#0d0d14" stroke-width="1.7"/>
<rect x="440.45" y="376.75" width="5.3" height="5.3" fill="#93badc" stroke="#0d0d14" stroke-width="1.7"/>
<rect x="444.25" y="376.75" width="5.3" height="5.3" fill="#93badc" stroke="#0d0d14" stroke-width="1.7"/>
<rect x="448.60" y="376.75" width="5.3" height="5.3" fill="#93badc" stroke="#0d0d14" stroke-width="1.7"/>
<rect x="401.10" y="375.45" width="5.3" height="5.3" fill="#93badc" stroke="#0d0d14" stroke-width="1.7"/>
<circle cx="440.60" cy="379.40" r="2.9" fill="#93badc" stroke="#0d0d14" stroke-width="1.7"/>
<circle cx="409.40" cy="385.60" r="2.9" fill="#93badc" stroke="#0d0d14" stroke-width="1.7"/>
<circle cx="415.00" cy="385.60" r="2.9" fill="#93badc" stroke="#0d0d14" stroke-width="1.7"/>
<circle cx="426.90" cy="386.25" r="2.9" fill="#93badc" stroke="#0d0d14" stroke-width="1.7"/>
<circle cx="403.75" cy="390.60" r="2.9" fill="#93badc" stroke="#0d0d14" stroke-width="1.7"/>
<circle cx="416.90" cy="390.60" r="2.9" fill="#93badc" stroke="#0d0d14" stroke-width="1.7"/>
<circle cx="421.25" cy="390.60" r="2.9" fill="#93badc" stroke="#0d0d14" stroke-width="1.7"/>
<circle cx="425.60" cy="390.60" r="2.9" fill="#93badc" stroke="#0d0d14" stroke-width="1.7"/>
<circle cx="430.00" cy="390.60" r="2.9" fill="#93badc" stroke="#0d0d14" stroke-width="1.7"/>
<circle cx="435.60" cy="390.60" r="2.9" fill="#93badc" stroke="#0d0d14" stroke-width="1.7"/>
<circle cx="440.00" cy="390.60" r="2.9" fill="#93badc" stroke="#0d0d14" stroke-width="1.7"/>
<circle cx="448.10" cy="390.60" r="2.9" fill="#93badc" stroke="#0d0d14" stroke-width="1.7"/>
<circle cx="457.50" cy="390.60" r="2.9" fill="#93badc" stroke="#0d0d14" stroke-width="1.7"/>
<circle cx="415.60" cy="385.25" r="2.9" fill="#93badc" stroke="#0d0d14" stroke-width="1.7"/>
<circle cx="410.00" cy="385.25" r="2.9" fill="#93badc" stroke="#0d0d14" stroke-width="1.7"/>
<circle cx="416.90" cy="390.60" r="2.9" fill="#93badc" stroke="#0d0d14" stroke-width="1.7"/>
<circle cx="286.00" cy="389.00" r="2.9" fill="#93badc" stroke="#0d0d14" stroke-width="1.7"/>
<rect x="273.25" y="195.75" width="5.3" height="5.3" fill="#8bbb66" stroke="#0d0d14" stroke-width="1.7"/>
<rect x="266.75" y="206.95" width="5.3" height="5.3" fill="#8bbb66" stroke="#0d0d14" stroke-width="1.7"/>
<rect x="261.10" y="212.35" width="5.3" height="5.3" fill="#8bbb66" stroke="#0d0d14" stroke-width="1.7"/>
<rect x="258.35" y="212.60" width="5.3" height="5.3" fill="#8bbb66" stroke="#0d0d14" stroke-width="1.7"/>
<rect x="252.10" y="211.35" width="5.3" height="5.3" fill="#8bbb66" stroke="#0d0d14" stroke-width="1.7"/>
<rect x="252.95" y="215.45" width="5.3" height="5.3" fill="#8bbb66" stroke="#0d0d14" stroke-width="1.7"/>
<rect x="296.10" y="207.95" width="5.3" height="5.3" fill="#8bbb66" stroke="#0d0d14" stroke-width="1.7"/>
<rect x="301.10" y="207.95" width="5.3" height="5.3" fill="#8bbb66" stroke="#0d0d14" stroke-width="1.7"/>
<rect x="447.95" y="235.35" width="5.3" height="5.3" fill="#8bbb66" stroke="#0d0d14" stroke-width="1.7"/>
<rect x="448.60" y="268.25" width="5.3" height="5.3" fill="#8bbb66" stroke="#0d0d14" stroke-width="1.7"/>
<circle cx="254.50" cy="352.50" r="2.9" fill="#8bbb66" stroke="#0d0d14" stroke-width="1.7"/>
<circle cx="259.00" cy="351.00" r="2.9" fill="#8bbb66" stroke="#0d0d14" stroke-width="1.7"/>
<circle cx="262.00" cy="351.00" r="2.9" fill="#8bbb66" stroke="#0d0d14" stroke-width="1.7"/>
<circle cx="277.00" cy="348.00" r="2.9" fill="#8bbb66" stroke="#0d0d14" stroke-width="1.7"/>
<circle cx="298.30" cy="356.20" r="2.9" fill="#8bbb66" stroke="#0d0d14" stroke-width="1.7"/>
<circle cx="303.50" cy="356.20" r="2.9" fill="#8bbb66" stroke="#0d0d14" stroke-width="1.7"/>
<circle cx="450.60" cy="366.90" r="2.9" fill="#8bbb66" stroke="#0d0d14" stroke-width="1.7"/>
<rect x="268.75" y="146.95" width="5.3" height="5.3" fill="#aa1338" stroke="#0d0d14" stroke-width="1.7"/>
<rect x="257.15" y="161.15" width="5.3" height="5.3" fill="#aa1338" stroke="#0d0d14" stroke-width="1.7"/>
<rect x="259.75" y="159.95" width="5.3" height="5.3" fill="#aa1338" stroke="#0d0d14" stroke-width="1.7"/>
<rect x="270.45" y="146.10" width="5.3" height="5.3" fill="#aa1338" stroke="#0d0d14" stroke-width="1.7"/>
<rect x="274.25" y="146.10" width="5.3" height="5.3" fill="#aa1338" stroke="#0d0d14" stroke-width="1.7"/>
<rect x="280.45" y="147.10" width="5.3" height="5.3" fill="#aa1338" stroke="#0d0d14" stroke-width="1.7"/>
<rect x="277.10" y="151.35" width="5.3" height="5.3" fill="#aa1338" stroke="#0d0d14" stroke-width="1.7"/>
<rect x="258.85" y="159.85" width="5.3" height="5.3" fill="#aa1338" stroke="#0d0d14" stroke-width="1.7"/>
<rect x="261.35" y="158.35" width="5.3" height="5.3" fill="#aa1338" stroke="#0d0d14" stroke-width="1.7"/>
<rect x="264.85" y="156.10" width="5.3" height="5.3" fill="#aa1338" stroke="#0d0d14" stroke-width="1.7"/>
<rect x="269.25" y="156.10" width="5.3" height="5.3" fill="#aa1338" stroke="#0d0d14" stroke-width="1.7"/>
<rect x="280.45" y="158.60" width="5.3" height="5.3" fill="#aa1338" stroke="#0d0d14" stroke-width="1.7"/>
<rect x="272.35" y="168.60" width="5.3" height="5.3" fill="#aa1338" stroke="#0d0d14" stroke-width="1.7"/>
<rect x="280.45" y="168.35" width="5.3" height="5.3" fill="#aa1338" stroke="#0d0d14" stroke-width="1.7"/>
<rect x="282.85" y="184.85" width="5.3" height="5.3" fill="#aa1338" stroke="#0d0d14" stroke-width="1.7"/>
<circle cx="283.50" cy="344.00" r="2.9" fill="#aa1338" stroke="#0d0d14" stroke-width="1.7"/>
<circle cx="283.00" cy="348.00" r="2.9" fill="#aa1338" stroke="#0d0d14" stroke-width="1.7"/>
<circle cx="275.00" cy="352.00" r="2.9" fill="#aa1338" stroke="#0d0d14" stroke-width="1.7"/>
<circle cx="279.50" cy="352.50" r="2.9" fill="#aa1338" stroke="#0d0d14" stroke-width="1.7"/>
<circle cx="285.00" cy="353.00" r="2.9" fill="#aa1338" stroke="#0d0d14" stroke-width="1.7"/>
<circle cx="262.00" cy="356.00" r="2.9" fill="#aa1338" stroke="#0d0d14" stroke-width="1.7"/>
<circle cx="275.00" cy="359.50" r="2.9" fill="#aa1338" stroke="#0d0d14" stroke-width="1.7"/>
<rect x="266.85" y="134.45" width="5.3" height="5.3" fill="#5e3f6e" stroke="#0d0d14" stroke-width="1.7"/>
<circle cx="269.00" cy="352.50" r="2.9" fill="#5e3f6e" stroke="#0d0d14" stroke-width="1.7"/>
</g>
<text transform="translate(239.9,128.4) scale(1.147,1)" font-size="10" fill="#111" stroke="#111" stroke-width="0.15">rs11980379</text>
<rect x="78.75" y="30.3" width="380.65" height="382.05" fill="none" stroke="#000" stroke-width="2.1"/>
<line x1="73.5" y1="394.60" x2="78" y2="394.60" stroke="#000" stroke-width="1.5"/>
<text x="69.4" y="398.80" font-size="12" text-anchor="end" fill="#111">0</text>
<line x1="73.5" y1="325.22" x2="78" y2="325.22" stroke="#000" stroke-width="1.5"/>
<text x="69.4" y="329.42" font-size="12" text-anchor="end" fill="#111">2</text>
<line x1="73.5" y1="255.84" x2="78" y2="255.84" stroke="#000" stroke-width="1.5"/>
<text x="69.4" y="260.04" font-size="12" text-anchor="end" fill="#111">4</text>
<line x1="73.5" y1="186.46" x2="78" y2="186.46" stroke="#000" stroke-width="1.5"/>
<text x="69.4" y="190.66" font-size="12" text-anchor="end" fill="#111">6</text>
<line x1="73.5" y1="117.08" x2="78" y2="117.08" stroke="#000" stroke-width="1.5"/>
<text x="69.4" y="121.28" font-size="12" text-anchor="end" fill="#111">8</text>
<line x1="73.5" y1="47.70" x2="78" y2="47.70" stroke="#000" stroke-width="1.5"/>
<text x="69.4" y="51.90" font-size="12" text-anchor="end" fill="#111">10</text>
<line x1="460" y1="394.60" x2="464.4" y2="394.60" stroke="#333" stroke-width="1.3"/>
<text x="469.4" y="398.80" font-size="12" fill="#8583b4">0</text>
<line x1="460" y1="325.22" x2="464.4" y2="325.22" stroke="#333" stroke-width="1.3"/>
<text x="469.4" y="329.42" font-size="12" fill="#8583b4">20</text>
<line x1="460" y1="255.84" x2="464.4" y2="255.84" stroke="#333" stroke-width="1.3"/>
<text x="469.4" y="260.04" font-size="12" fill="#8583b4">40</text>
<line x1="460" y1="186.46" x2="464.4" y2="186.46" stroke="#333" stroke-width="1.3"/>
<text x="469.4" y="190.66" font-size="12" fill="#8583b4">60</text>
<line x1="460" y1="117.08" x2="464.4" y2="117.08" stroke="#333" stroke-width="1.3"/>
<text x="469.4" y="121.28" font-size="12" fill="#8583b4">80</text>
<line x1="460" y1="47.70" x2="464.4" y2="47.70" stroke="#333" stroke-width="1.3"/>
<text x="469.4" y="51.90" font-size="12" fill="#8583b4">100</text>
<text transform="translate(47.8,266.9) rotate(-90)" font-size="13.5" fill="#111">−log<tspan font-size="9" dy="3">10</tspan><tspan dy="-3">(p−value)</tspan></text>
<text transform="translate(495.9,137.6) rotate(90)" font-size="13.25" fill="#8583b4">Recombination rate (cM/Mb)</text>
<rect x="415.9" y="34.9" width="39.4" height="84" fill="#fff" stroke="#000" stroke-width="1.6"/>
<rect x="421.3" y="50.40" width="10.4" height="12.82" fill="#be1130" stroke="#111" stroke-width="1.1"/>
<rect x="421.3" y="63.22" width="10.4" height="12.82" fill="#f3be25" stroke="#111" stroke-width="1.1"/>
<rect x="421.3" y="76.04" width="10.4" height="12.82" fill="#6aaa43" stroke="#111" stroke-width="1.1"/>
<rect x="421.3" y="88.86" width="10.4" height="12.82" fill="#80b6e6" stroke="#111" stroke-width="1.1"/>
<rect x="421.3" y="101.68" width="10.4" height="12.82" fill="#3c5a8a" stroke="#111" stroke-width="1.1"/>
<line x1="432" y1="63.22" x2="436.5" y2="63.22" stroke="#111" stroke-width="1"/>
<text x="438.8" y="66.12" font-size="8.1" fill="#111">0.8</text>
<line x1="432" y1="76.04" x2="436.5" y2="76.04" stroke="#111" stroke-width="1"/>
<text x="438.8" y="78.94" font-size="8.1" fill="#111">0.6</text>
<line x1="432" y1="88.86" x2="436.5" y2="88.86" stroke="#111" stroke-width="1"/>
<text x="438.8" y="91.76" font-size="8.1" fill="#111">0.4</text>
<line x1="432" y1="101.68" x2="436.5" y2="101.68" stroke="#111" stroke-width="1"/>
<text x="438.8" y="104.58" font-size="8.1" fill="#111">0.2</text>
<text x="434.4" y="46" font-size="9.5" font-style="italic" fill="#111">r<tspan font-size="7" dx="-0.8" dy="-2.4">2</tspan></text>
<rect x="79.25" y="423.3" width="379.75" height="16.5" fill="none" stroke="#000" stroke-width="1.9"/>
<line x1="80" y1="435.4" x2="274.4" y2="435.4" stroke="#6c7486" stroke-width="1.1"/>
<rect x="203.1" y="433.60" width="5.00" height="3" fill="#34507e"/>
<rect x="219.4" y="433.40" width="1.20" height="3.4" fill="#34507e"/>
<rect x="231" y="433.40" width="1.20" height="3.4" fill="#34507e"/>
<rect x="240.25" y="433.40" width="1.25" height="3.4" fill="#34507e"/>
<rect x="248.3" y="433.40" width="1.45" height="3.4" fill="#34507e"/>
<rect x="264" y="433.40" width="10.40" height="3.4" fill="#34507e"/>
<text x="136.9" y="431.5" font-size="7.1" font-style="italic" fill="#111" stroke="#111" stroke-width="0.15">IKZF1</text>
<path d="M158.7 429.3H164.5" stroke="#111" stroke-width="1.3"/><path d="M163.4 427.2L167.6 429.3L163.4 431.4Z" fill="#111"/>
<line x1="348" y1="435.1" x2="361.2" y2="435.1" stroke="#6c7486" stroke-width="1"/>
<rect x="348.1" y="433.7" width="2.10" height="2.7" fill="#34507e"/>
<rect x="350.9" y="433.7" width="1.80" height="2.7" fill="#34507e"/>
<rect x="353.4" y="433.7" width="1.90" height="2.7" fill="#34507e"/>
<rect x="356" y="433.7" width="1.80" height="2.7" fill="#34507e"/>
<rect x="358.5" y="433.7" width="2.70" height="2.7" fill="#34507e"/>
<text x="347.3" y="431.9" font-size="7.2" font-style="italic" fill="#111" stroke="#111" stroke-width="0.15">FIGNL1</text>
<path d="M338.5 429.4H344.4" stroke="#111" stroke-width="1.3"/><path d="M339.8 427.3L335.6 429.4L339.8 431.5Z" fill="#111"/>
<line x1="135.60" y1="440.5" x2="135.60" y2="444.8" stroke="#000" stroke-width="1.5"/>
<text x="135.60" y="459.5" font-size="11.8" text-anchor="middle" fill="#111">50.4</text>
<line x1="230.80" y1="440.5" x2="230.80" y2="444.8" stroke="#000" stroke-width="1.5"/>
<text x="230.80" y="459.5" font-size="11.8" text-anchor="middle" fill="#111">50.45</text>
<line x1="326.00" y1="440.5" x2="326.00" y2="444.8" stroke="#000" stroke-width="1.5"/>
<text x="326.00" y="459.5" font-size="11.8" text-anchor="middle" fill="#111">50.5</text>
<line x1="421.20" y1="440.5" x2="421.20" y2="444.8" stroke="#000" stroke-width="1.5"/>
<text x="421.20" y="459.5" font-size="11.8" text-anchor="middle" fill="#111">50.55</text>
<text transform="translate(206,480) scale(0.889,1)" font-size="14.9" fill="#111">Position on chr7 (Mb)</text></svg>
</body></html>
